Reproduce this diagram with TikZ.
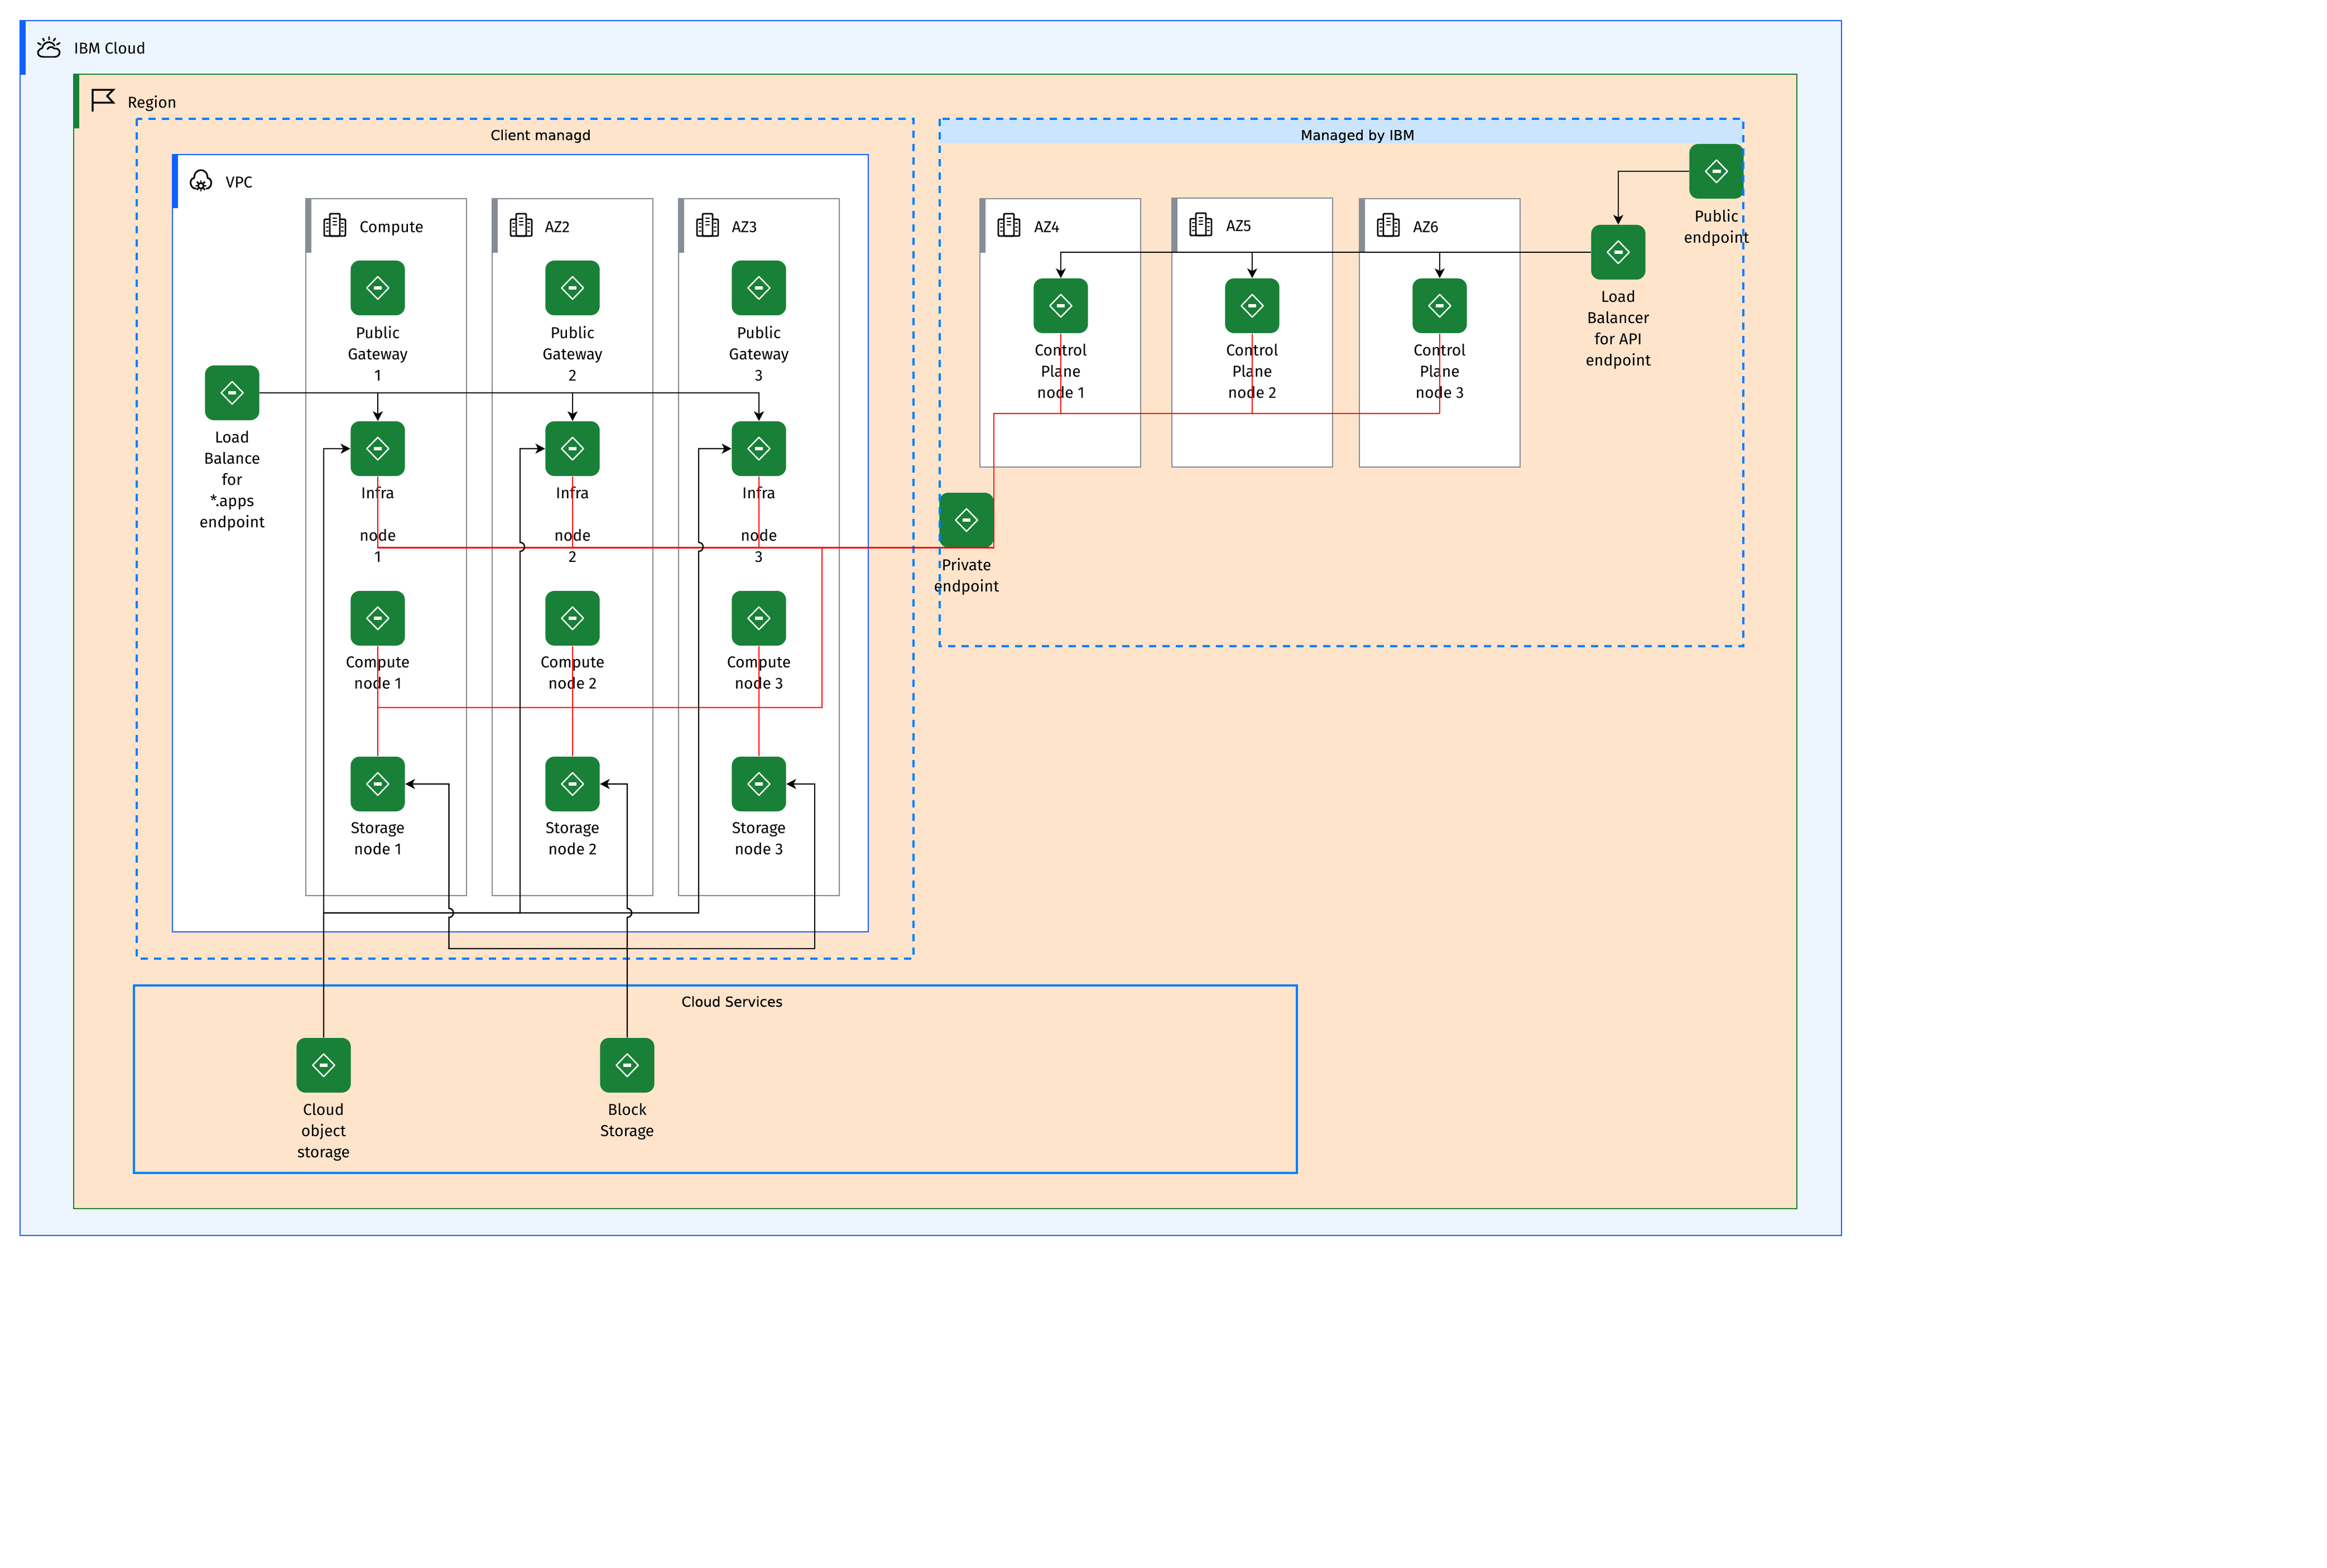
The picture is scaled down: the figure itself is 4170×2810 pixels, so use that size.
\documentclass[tikz,border=0pt]{standalone}
\usepackage{fontspec}
\setmainfont{Fira Sans}
\newfontfamily\titlefont[FakeBold=0.2]{DejaVu Sans}
\definecolor{BlueIBM}{HTML}{0F62FE}
\definecolor{GreenIBM}{HTML}{198038}
\definecolor{GreyIBM}{HTML}{878D96}
\definecolor{DashBlue}{HTML}{007FFF}
\definecolor{SkyIBM}{HTML}{EDF5FF}
\definecolor{HeadBlue}{HTML}{CCE5FF}
\definecolor{RegionFill}{HTML}{FFE4CC}
\usetikzlibrary{arrows.meta}
\usetikzlibrary{calc}
\usetikzlibrary{positioning}
\tikzset{
	gate/.style={shape=rectangle, rounded corners=6pt, fill=GreenIBM, inner sep=0pt,
		minimum width=36.5pt, minimum height=36.75pt,
		path picture={
			\draw[white, line width=.9pt, line join=round, sharp corners]
				(path picture bounding box.center) ++(-7.4pt,0pt) -- ++(7.4pt,7.6pt)
				-- ++(7.4pt,-7.6pt) -- ++(-7.4pt,-7.6pt) -- cycle;
			\fill[white, sharp corners] ([shift={(-2.8pt,-1.1pt)}]path picture bounding box.center)
				rectangle ([shift={(2.8pt,1.1pt)}]path picture bounding box.center);
		}},
	lbl/.style={align=center, inner sep=0pt, execute at begin node={\rule{0pt}{8pt}},
		font=\fontsize{10.6}{14.25}\selectfont},
	grouplbl/.style={anchor=base west, inner sep=0pt, font=\fontsize{10.6}{14.25}\selectfont},
	titlelbl/.style={anchor=base, inner sep=0pt, font=\titlefont\fontsize{9.2}{11}\selectfont},
	azbox/.style={draw=GreyIBM, fill=white, line width=.8pt},
	azbar/.style={fill=GreyIBM},
	dashbox/.style={draw=DashBlue, line width=1.3pt, dash pattern=on 5pt off 4pt},
	glyph/.style={line width=1.1pt, line cap=round, line join=round},
	building/.pic={
		\draw[glyph, rounded corners=.8pt] (-9,20) -- (-9,-20) -- (9,-20) -- (9,20) -- cycle;
		\draw[glyph, rounded corners=.8pt] (-9,-10) -- (-19,-10) -- (-19,20) -- (19,20) -- (19,-10) -- (9,-10);
		\foreach \dy in {-12,-6,0} {\draw[glyph] (-3,\dy) -- (3,\dy);}
		\foreach \dy in {-3,4,11} {\draw[glyph] (-15,\dy) -- (-12,\dy); \draw[glyph] (12,\dy) -- (15,\dy);}
	},
	arrowline/.style={draw=black, line width=.9pt, -{Stealth[length=6.5pt,width=6.7pt,inset=1.7pt]}},
	blackline/.style={draw=black, line width=.9pt},
	redline/.style={draw=red, line width=.8pt}
}
\begin{document}
\begin{tikzpicture}[x=.375pt, y=-.375pt]
	\useasboundingbox (0,0) rectangle (4170,2810);
	% containers
	\draw[draw=BlueIBM, fill=SkyIBM, line width=.8pt] (36,37) rectangle (3300,2214);
	\fill[BlueIBM] (36,37) rectangle (46,134);
	\draw[draw=GreenIBM, fill=RegionFill, line width=.8pt] (132,133) rectangle (3220,2166);
	\fill[GreenIBM] (132,133) rectangle (142,230);
	\draw[dashbox] (245,213) rectangle (1637,1718);
	\draw[draw=BlueIBM, fill=white, line width=.8pt] (309,277) rectangle (1556,1670);
	\fill[BlueIBM] (309,277) rectangle (319,373);
	\fill[HeadBlue] (1684,213) rectangle (3124,257);
	\draw[draw=DashBlue, line width=1.3pt] (240,1766) rectangle (2324,2102);
	% zones
	\draw[azbox] (548,356) rectangle (836,1605);
	\fill[azbar] (548,356) rectangle (558,453);
	\draw[azbox] (882,356) rectangle (1170,1605);
	\fill[azbar] (882,356) rectangle (892,453);
	\draw[azbox] (1216,356) rectangle (1504,1605);
	\fill[azbar] (1216,356) rectangle (1226,453);
	\draw[azbox] (1756,356) rectangle (2044,837);
	\fill[azbar] (1756,356) rectangle (1766,453);
	\draw[azbox] (2100,355) rectangle (2388,837);
	\fill[azbar] (2100,355) rectangle (2110,452);
	\draw[azbox] (2436,356) rectangle (2724,837);
	\fill[azbar] (2436,356) rectangle (2446,453);
	\pic at (600,403) {building};
	\pic at (934,403) {building};
	\pic at (1268,403) {building};
	\pic at (1808,403) {building};
	\pic at (2152,402) {building};
	\pic at (2488,403) {building};
	% cloud glyph
	\draw[glyph] (78,102) -- (98,102) .. controls (110,102) and (110,85) .. (97,87)
		.. controls (94,83) and (88,83) .. (85,88);
	\draw[glyph] (98,82) .. controls (93,72) and (77,74) .. (76,86)
		.. controls (64,90) and (66,102) .. (78,102);
	\draw[glyph] (88,66) -- (88,71) (77,69) -- (79,73) (99,69) -- (96,73) (68,77) -- (73,80) (107,77) -- (102,80);
	% flag glyph
	\draw[line width=1.3pt, line join=miter] (166,200) -- (166,161) -- (203,161) -- (192,172) -- (203,184) -- (166,184);
	% vpc glyph
	\draw[glyph] (351,338) .. controls (340,338) and (338,320) .. (348,319)
		.. controls (348,300) and (372,300) .. (372,319)
		.. controls (382,320) and (380,338) .. (370,338);
	\draw[glyph] (360,333) circle (5);
	\foreach \ang in {0,45,...,315} {\draw[line width=1.1pt] (360,333) ++(\ang:2.4pt) -- ++(\ang:1.5pt);}
	% texts of the containers
	\node[grouplbl] (cloudt) at (132,97) {IBM Cloud};
	\node[grouplbl] (regiont) at (228,194) {Region};
	\node[grouplbl] (vpct) at (404,337) {VPC};
	\node[grouplbl] (az1t) at (644,417) {Compute};
	\node[grouplbl] (az2t) at (976,417) {AZ2};
	\node[grouplbl] (az3t) at (1311,417) {AZ3};
	\node[grouplbl] (az4t) at (1853,417) {AZ4};
	\node[grouplbl] (az5t) at (2197,415) {AZ5};
	\node[grouplbl] (az6t) at (2532,417) {AZ6};
	\node[titlelbl] (clientt) at (969,251) {Client managd};
	\node[titlelbl] (managedt) at (2433,251) {Managed by IBM};
	\node[titlelbl] (servicest) at (1312,1804) {Cloud Services};
	% gateways
	\node[gate] (lbapps) at (416,704) {};
	\node[lbl, below=7pt of lbapps] (lbappst) {Load\\Balance\\for\\*.apps\\endpoint};
	\node[gate] (gw1) at (677,516) {};
	\node[lbl, below=7pt of gw1] (gw1t) {Public\\Gateway\\1};
	\node[gate] (gw2) at (1026,516) {};
	\node[lbl, below=7pt of gw2] (gw2t) {Public\\Gateway\\2};
	\node[gate] (gw3) at (1360,516) {};
	\node[lbl, below=7pt of gw3] (gw3t) {Public\\Gateway\\3};
	\node[gate] (infra1) at (677,804) {};
	\node[lbl, below=7pt of infra1] (infra1t) {Infra\\\mbox{}\\node\\1};
	\node[gate] (infra2) at (1026,804) {};
	\node[lbl, below=7pt of infra2] (infra2t) {Infra\\\mbox{}\\node\\2};
	\node[gate] (infra3) at (1360,804) {};
	\node[lbl, below=7pt of infra3] (infra3t) {Infra\\\mbox{}\\node\\3};
	\node[gate] (comp1) at (677,1108) {};
	\node[lbl, below=7pt of comp1] (comp1t) {Compute\\node 1};
	\node[gate] (comp2) at (1026,1108) {};
	\node[lbl, below=7pt of comp2] (comp2t) {Compute\\node 2};
	\node[gate] (comp3) at (1360,1108) {};
	\node[lbl, below=7pt of comp3] (comp3t) {Compute\\node 3};
	\node[gate] (stor1) at (677,1405) {};
	\node[lbl, below=7pt of stor1] (stor1t) {Storage\\node 1};
	\node[gate] (stor2) at (1026,1405) {};
	\node[lbl, below=7pt of stor2] (stor2t) {Storage\\node 2};
	\node[gate] (stor3) at (1360,1405) {};
	\node[lbl, below=7pt of stor3] (stor3t) {Storage\\node 3};
	\node[gate] (cos) at (580,1909) {};
	\node[lbl, below=7pt of cos] (cost) {Cloud\\object\\storage};
	\node[gate] (block) at (1124,1909) {};
	\node[lbl, below=7pt of block] (blockt) {Block\\Storage};
	\node[gate] (priv) at (1732,932) {};
	\node[lbl, below=7pt of priv] (privt) {Private\\endpoint};
	\node[gate] (ctl1) at (1901,548) {};
	\node[lbl, below=7pt of ctl1] (ctl1t) {Control\\Plane\\node 1};
	\node[gate] (ctl2) at (2244,548) {};
	\node[lbl, below=7pt of ctl2] (ctl2t) {Control\\Plane\\node 2};
	\node[gate] (ctl3) at (2580,548) {};
	\node[lbl, below=7pt of ctl3] (ctl3t) {Control\\Plane\\node 3};
	\node[gate] (lbapi) at (2900,452) {};
	\node[lbl, below=7pt of lbapi] (lbapit) {Load\\Balancer\\for API\\endpoint};
	\node[gate] (pub) at (3076,307) {};
	\node[lbl, below=7pt of pub] (pubt) {Public\\endpoint};
	% turning points
	\coordinate (hopb) at (932,980);
	\coordinate (hopc) at (1252,980);
	\coordinate (busleft) at (580,1636);
	\coordinate (busend) at (1252,1636);
	\coordinate (hopa) at (804.5,1636);
	\coordinate (hopd) at (1124,1636);
	\coordinate (lowbus) at (1124,1700);
	\coordinate (lowend) at (1460,1700);
	\coordinate (redtop) at (1472.6,980);
	\coordinate (redlow) at (1472.6,1268);
	\coordinate (ctlbus) at (2580,741);
	% red links
	\draw[redline] (infra1.south) |- (priv.south east) |- (ctlbus);
	\draw[redline] (infra2.south) -- (infra2.south |- redtop);
	\draw[redline] (infra3.south) -- (infra3.south |- redtop);
	\draw[redline] (redtop) -- (redlow) -- (redlow -| comp1.south);
	\draw[redline] (comp1.south) -- (stor1.north);
	\draw[redline] (comp2.south) -- (stor2.north);
	\draw[redline] (comp3.south) -- (stor3.north);
	\draw[redline] (ctl1.south) -- (ctl1.south |- ctlbus);
	\draw[redline] (ctl2.south) -- (ctl2.south |- ctlbus);
	\draw[redline] (ctl3.south) -- (ctlbus);
	% black links
	\draw[arrowline] (lbapps.east) -| (infra1.north);
	\draw[arrowline] (lbapps.east) -| (infra2.north);
	\draw[arrowline] (lbapps.east) -| (infra3.north);
	\draw[arrowline] (cos.north) |- (infra1.west);
	\draw[arrowline] (cos.north) -- (busleft) -- (busleft -| hopb) -- ([yshift=-3pt]hopb)
		to[out=0,in=0,distance=4pt] ([yshift=3pt]hopb) |- (infra2.west);
	\draw[arrowline] (busleft) -- (busend) -- ([yshift=-3pt]hopc)
		to[out=0,in=0,distance=4pt] ([yshift=3pt]hopc) |- (infra3.west);
	\draw[arrowline] (block.north) -- ([yshift=-3pt]hopd)
		to[out=0,in=0,distance=4pt] ([yshift=3pt]hopd) |- (stor2.east);
	\draw[arrowline] (lowbus) -- (lowbus -| hopa) -- ([yshift=-3pt]hopa)
		to[out=0,in=0,distance=4pt] ([yshift=3pt]hopa) |- (stor1.east);
	\draw[arrowline] (lowbus) -- (lowend) |- (stor3.east);
	\draw[arrowline] (pub.west) -| (lbapi.north);
	\draw[arrowline] (lbapi.west) -| (ctl1.north);
	\draw[arrowline] (lbapi.west) -| (ctl2.north);
	\draw[arrowline] (lbapi.west) -| (ctl3.north);
	\draw[dashbox] (1684,213) rectangle (3124,1158);
\end{tikzpicture}
\end{document}
